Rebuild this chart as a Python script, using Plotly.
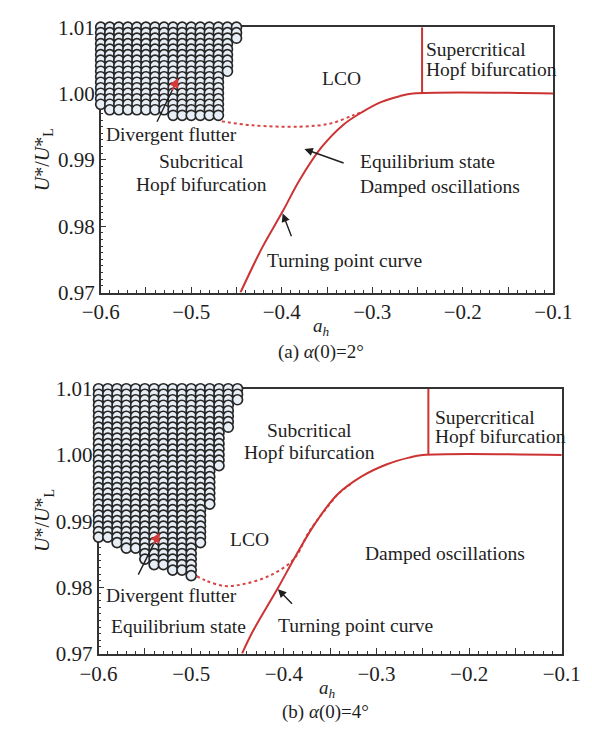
import plotly.graph_objects as go

# ---------------- data ----------------
# divergent-flutter grid: one column of circles per a_h value
flutter_cols = [-0.60, -0.59, -0.58, -0.57, -0.56, -0.55, -0.54, -0.53,
                -0.52, -0.51, -0.50, -0.49, -0.48, -0.47, -0.46, -0.45]
flutter_top_u = 1.01
flutter_step = 0.00083
# lowest U*/U*_L reached in each column
flutter_bottom_a = [0.9984, 0.9976, 0.9976, 0.9976, 0.9976, 0.9976, 0.9976, 0.9976,
                    0.9967, 0.9967, 0.9967, 0.9967, 0.9967, 0.9967, 1.0034, 1.0083]
flutter_bottom_b = [0.9876, 0.9876, 0.9868, 0.9859, 0.9859, 0.9843, 0.9834, 0.9834,
                    0.9826, 0.9826, 0.9818, 0.9868, 0.9926, 0.9984, 1.0042, 1.0083]

# turning point curve + Hopf boundary, alpha(0)=2 deg
turn_a_x = [-0.4456, -0.4215, -0.3991, -0.3801, -0.3560, -0.3319, -0.3112,
            -0.2905, -0.2698, -0.2550, -0.1000]
turn_a_y = [0.9700, 0.9768, 0.9822, 0.9870, 0.9919, 0.9953, 0.9972,
            0.9987, 0.9996, 1.0000, 1.0000]
lco_a_x = [-0.4662, -0.4318, -0.3801, -0.3457, -0.3215, -0.3112]
lco_a_y = [0.9958, 0.9952, 0.9950, 0.9955, 0.9967, 0.9972]
hopf_a_x = [-0.245, -0.245]
hopf_a_y = [1.000, 1.010]

# turning point curve + Hopf boundary, alpha(0)=4 deg
turn_b_x = [-0.4451, -0.4333, -0.4064, -0.3862, -0.3660, -0.3424, -0.3155,
            -0.2886, -0.2650, -0.2500, -0.1000]
turn_b_y = [0.9700, 0.9734, 0.9799, 0.9850, 0.9897, 0.9940, 0.9968,
            0.9986, 0.9996, 1.0000, 1.0000]
lco_b_x = [-0.4940, -0.4838, -0.4636, -0.4434, -0.4165, -0.3896, -0.3727,
           -0.3560, -0.3400, -0.3256]
lco_b_y = [0.9817, 0.9810, 0.9802, 0.9805, 0.9817, 0.9842, 0.9884,
           0.9916, 0.9943, 0.9958]
hopf_b_x = [-0.244, -0.244]
hopf_b_y = [1.000, 1.010]

x_tick_vals = [-0.60, -0.55, -0.50, -0.45, -0.40, -0.35, -0.30, -0.25, -0.20, -0.15, -0.10]
x_tick_text = ["\u22120.6", "", "\u22120.5", "", "\u22120.4", "", "\u22120.3", "",
               "\u22120.2", "", "\u22120.1"]
y_tick_vals = [0.97, 0.98, 0.99, 1.00, 1.01]
y_tick_text = ["0.97", "0.98", "0.99", "1.00", "1.01"]

# ---------------- styles ----------------
W, H = 592, 733
SERIF = "Liberation Serif, Times New Roman, serif"
RED = "#cc3333"
INK = "#1e1e1e"
FS = 19.5
TICK_FS = 21


def grid_points(bottoms):
    xs, ys = [], []
    for a, low in zip(flutter_cols, bottoms):
        k = 0
        while flutter_top_u - k * flutter_step >= low - 0.0002:
            xs.append(a)
            ys.append(flutter_top_u - k * flutter_step)
            k += 1
    return xs, ys


fig = go.Figure()


def add_panel(xa, ya, bottoms, tx, ty, lx, ly, hx, hy):
    gx, gy = grid_points(bottoms)
    fig.add_trace(go.Scatter(
        x=gx, y=gy, mode="markers", xaxis=xa, yaxis=ya, cliponaxis=False,
        marker=dict(symbol="circle", size=10, color="#e8eef5",
                    line=dict(color="#262626", width=1.7)),
        showlegend=False, hoverinfo="skip"))
    fig.add_trace(go.Scatter(
        x=lx, y=ly, mode="lines", xaxis=xa, yaxis=ya, line_shape="spline",
        line=dict(color="#d84444", width=2, dash="dot"),
        showlegend=False, hoverinfo="skip"))
    fig.add_trace(go.Scatter(
        x=tx, y=ty, mode="lines", xaxis=xa, yaxis=ya, line_shape="spline",
        line=dict(color=RED, width=2), showlegend=False, hoverinfo="skip"))
    fig.add_trace(go.Scatter(
        x=hx, y=hy, mode="lines", xaxis=xa, yaxis=ya,
        line=dict(color=RED, width=2), showlegend=False, hoverinfo="skip"))


add_panel("x", "y", flutter_bottom_a, turn_a_x, turn_a_y, lco_a_x, lco_a_y,
          hopf_a_x, hopf_a_y)
add_panel("x2", "y2", flutter_bottom_b, turn_b_x, turn_b_y, lco_b_x, lco_b_y,
          hopf_b_x, hopf_b_y)

ann = []


def label(text, x, y, xr, yr, xanchor="center"):
    ann.append(dict(text=text, x=x, y=y, xref=xr, yref=yr, showarrow=False,
                    xanchor=xanchor, yanchor="middle",
                    font=dict(family=SERIF, size=FS, color=INK)))


def arrow(tip, tail, xr, yr, color=INK, head_color=None):
    ann.append(dict(text="", x=tip[0], y=tip[1], ax=tail[0], ay=tail[1],
                    xref=xr, yref=yr, axref=xr, ayref=yr, showarrow=True,
                    arrowhead=0 if head_color else 2, arrowsize=1.2,
                    arrowwidth=1.4, arrowcolor=color, standoff=0))
    if head_color:
        mid = (tip[0] + 0.3 * (tail[0] - tip[0]), tip[1] + 0.3 * (tail[1] - tip[1]))
        ann.append(dict(text="", x=tip[0], y=tip[1], ax=mid[0], ay=mid[1],
                        xref=xr, yref=yr, axref=xr, ayref=yr, showarrow=True,
                        arrowhead=2, arrowsize=1.2, arrowwidth=1.6,
                        arrowcolor=head_color, standoff=0))


# panel (a)
label("LCO", -0.3336, 1.00233, "x", "y")
label("Supercritical", -0.2430, 1.00660, "x", "y", "left")
label("Hopf bifurcation", -0.2430, 1.00355, "x", "y", "left")
label("Divergent flutter", -0.5218, 0.99381, "x", "y")
label("Subcritical", -0.4885, 0.98975, "x", "y")
label("Hopf bifurcation", -0.4885, 0.98625, "x", "y")
label("Equilibrium state", -0.3153, 0.98975, "x", "y", "left")
label("Damped oscillations", -0.3153, 0.98600, "x", "y", "left")
label("Turning point curve", -0.3305, 0.97486, "x", "y")
arrow((-0.5145, 1.00233), (-0.5386, 0.99552), "x", "y", INK, "#d83838")
arrow((-0.3750, 0.99163), (-0.3300, 0.98944), "x", "y")
arrow((-0.3990, 0.98192), (-0.3887, 0.97827), "x", "y")

# panel (b)
label("Subcritical", -0.3727, 1.00370, "x2", "y2")
label("Hopf bifurcation", -0.3727, 1.00035, "x2", "y2")
label("Supercritical", -0.2390, 1.00570, "x2", "y2", "left")
label("Hopf bifurcation", -0.2390, 1.00275, "x2", "y2", "left")
label("LCO", -0.4374, 0.98728, "x2", "y2")
label("Damped oscillations", -0.2263, 0.98509, "x2", "y2")
label("Divergent flutter", -0.5212, 0.97881, "x2", "y2")
label("Equilibrium state", -0.5141, 0.97414, "x2", "y2")
label("Turning point curve", -0.3222, 0.97429, "x2", "y2")
arrow((-0.5343, 0.98826), (-0.5579, 0.98169), "x2", "y2", INK, "#d83838")
arrow((-0.4064, 0.97973), (-0.3896, 0.97730), "x2", "y2")


# axis titles and captions (paper coordinates, measured from the top)
def paper_text(text, px, py, angle=0, size=FS):
    ann.append(dict(text=text, x=px / W, y=1 - py / H, xref="paper", yref="paper",
                    showarrow=False, textangle=angle, xanchor="center",
                    yanchor="middle", font=dict(family=SERIF, size=size, color=INK)))


ytitle = "<i>U</i>*/<i>U</i>*<sub>L</sub>"
xtitle = "<i>a</i><sub><i>h</i></sub>"
paper_text(ytitle, 27, 153, -90, 20)
paper_text(ytitle, 27, 526, -90, 20)
paper_text(xtitle, 323, 326, 0, 19)
paper_text(xtitle, 330, 700, 0, 19)
paper_text("(a) <i>\u03b1</i>(0)=2\u00b0", 323, 351, 0, 19)
paper_text("(b) <i>\u03b1</i>(0)=4\u00b0", 327, 724, 0, 19)

xax = dict(range=[-0.6, -0.1], tickmode="array", tickvals=x_tick_vals,
           ticktext=x_tick_text, ticks="inside", ticklen=6, tickwidth=1.2,
           tickcolor="#333", showline=True, linecolor="#333", linewidth=1.5,
           mirror=True, showgrid=False, zeroline=False, layer="below traces",
           tickfont=dict(family=SERIF, size=TICK_FS, color=INK),
           minor=dict(ticks="inside", dtick=0.01, tick0=-0.6, ticklen=3,
                      tickwidth=1, tickcolor="#333", showgrid=False))
yax = dict(range=[0.97, 1.01], tickmode="array", tickvals=y_tick_vals,
           ticktext=y_tick_text, ticks="inside", ticklen=6, tickwidth=1.2,
           tickcolor="#333", showline=True, linecolor="#333", linewidth=1.5,
           mirror=True, showgrid=False, zeroline=False, layer="below traces",
           tickfont=dict(family=SERIF, size=TICK_FS, color=INK),
           minor=dict(ticks="inside", dtick=0.001, tick0=0.97, ticklen=3,
                      tickwidth=1, tickcolor="#333", showgrid=False))

fig.update_layout(
    width=W, height=H, margin=dict(l=0, r=0, t=0, b=0),
    paper_bgcolor="white", plot_bgcolor="white", showlegend=False,
    xaxis=dict(xax, domain=[87.3 / W, 571 / W], anchor="y"),
    yaxis=dict(yax, domain=[1 - 290 / H, 1 - 15.7 / H], anchor="x"),
    xaxis2=dict(xax, domain=[85 / W, 580 / W], anchor="y2"),
    yaxis2=dict(yax, domain=[1 - 663.3 / H, 1 - 389.5 / H], anchor="x2"),
    annotations=ann,
)

fig.write_html("out.html")
